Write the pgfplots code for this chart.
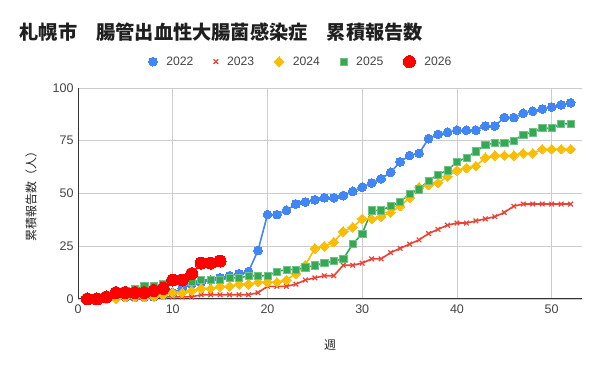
\documentclass[border=0pt]{standalone}
\usepackage{pgfplots}
\pgfplotsset{compat=1.18}
\usepackage{fontspec}
\setmainfont{Liberation Sans}
\newfontfamily\cjk{Noto Sans CJK JP}
\definecolor{c22}{HTML}{4285F4}
\definecolor{c23}{HTML}{EA4335}
\definecolor{c24}{HTML}{FBBC04}
\definecolor{c25}{HTML}{34A853}
\definecolor{c26}{HTML}{FF0000}
\definecolor{gridc}{HTML}{CCCCCC}
\definecolor{axc}{HTML}{333333}
\definecolor{txt}{HTML}{444444}
\begin{document}
\begin{tikzpicture}[x=1pt,y=1pt]
\path[use as bounding box] (0,0) rectangle (600,371);
\node[anchor=west, inner sep=0pt, text=black!88] at (19.5,339.3) {\cjk\bfseries\fontsize{19.2}{22}\selectfont 札幌市　腸管出血性大腸菌感染症　累積報告数};
\begin{axis}[
  at={(78pt,72pt)}, anchor=south west,
  scale only axis, width=504pt, height=211pt,
  xmin=0, xmax=53.2, ymin=0, ymax=100,
  xtick={0,10,20,30,40,50}, ytick={0,25,50,75,100},
  major tick length=0pt,
  axis x line*=bottom, axis y line*=left,
  axis line style={axc, line width=1pt, -},
  grid=major, major grid style={gridc, line width=0.8pt},
  ticklabel style={font=\fontsize{12.5}{14}\selectfont, text=txt},
  /pgf/number format/assume math mode=true,
  xticklabel style={yshift=-2pt},
  yticklabel style={xshift=-1pt},
  xlabel={\cjk 週}, ylabel={\cjk 累積報告数（人）},
  label style={font=\fontsize{12}{14}\selectfont, text=black!85},
  xlabel style={at={(axis description cs:0.5,-0.218)}, anchor=center},
  ylabel style={at={(axis description cs:-0.0933,0.5)}, anchor=center, rotate=0},
  legend columns=5,
  legend style={at={(axis description cs:0.4425,1.125)}, anchor=center, draw=none, fill=none,
    font=\fontsize{12.2}{14}\selectfont, text=txt,
    /tikz/every odd column/.append style={column sep=7pt},
    /tikz/every even column/.append style={column sep=18pt}},
  legend image code/.code={\draw[#1,/tikz/only marks] plot coordinates {(5pt,0pt)};},
  every axis plot/.append style={line width=1.6pt},
  clip=false,
]
\addplot[c22, mark=*, mark size=4.4pt, mark options={solid, fill=c22, draw=c22, line width=0pt}] coordinates {
(1,0)(2,0)(3,0)(4,1)(5,1)(6,1)(7,1)(8,1)(9,2)(10,3)(11,5)(12,7)(13,8)(14,9)(15,10)(16,11)(17,12)(18,13)
(19,23)(20,40)(21,40)(22,42)(23,45)(24,46)(25,47)(26,48)(27,48)(28,49)(29,51)(30,53)(31,55)(32,57)(33,60)(34,65)
(35,68)(36,69)(37,76)(38,78)(39,79)(40,80)(41,80)(42,80)(43,82)(44,82)(45,86)(46,86)(47,88)(48,89)(49,90)(50,91)(51,92)(52,93)};
\addlegendentry{2022}
\addplot[c23, mark=x, mark size=3.3pt, mark options={solid, line width=1.2pt}] coordinates {
(1,0)(2,0)(3,0)(4,0)(5,0)(6,0)(7,0)(8,1)(9,1)(10,1)(11,1)(12,1)(13,2)(14,2)(15,2)(16,2)(17,2)(18,2)
(19,3)(20,6)(21,6)(22,6)(23,7)(24,9)(25,10)(26,11)(27,11)(28,16)(29,16)(30,17)(31,19)(32,19)(33,22)(34,24)
(35,26)(36,28)(37,31)(38,33)(39,35)(40,36)(41,36)(42,37)(43,38)(44,39)(45,41)(46,44)(47,45)(48,45)(49,45)(50,45)(51,45)(52,45)};
\addlegendentry{2023}
\addplot[c24, mark=square*, mark size=3.4pt, mark options={solid, rotate=45, fill=c24, draw=c24, line width=0pt}] coordinates {
(1,0)(2,0)(3,0)(4,0)(5,1)(6,1)(7,1)(8,1)(9,2)(10,3)(11,3)(12,4)(13,5)(14,5)(15,6)(16,6)(17,7)(18,7)
(19,8)(20,8)(21,8)(22,9)(23,12)(24,16)(25,24)(26,25)(27,27)(28,32)(29,34)(30,38)(31,38)(32,39)(33,41)(34,44)
(35,48)(36,53)(37,54)(38,55)(39,58)(40,61)(41,62)(42,63)(43,67)(44,68)(45,68)(46,68)(47,69)(48,69)(49,71)(50,71)(51,71)(52,71)};
\addlegendentry{2024}
\addplot[c25, mark=square*, mark size=3.6pt, mark options={solid, fill=c25, draw=c25!70!white, line width=0.6pt}] coordinates {
(1,0)(2,0)(3,1)(4,3)(5,4)(6,5)(7,6)(8,6)(9,7)(10,8)(11,8)(12,8)(13,9)(14,9)(15,9)(16,10)(17,10)(18,11)
(19,11)(20,11)(21,13)(22,14)(23,14)(24,15)(25,16)(26,17)(27,18)(28,19)(29,26)(30,31)(31,42)(32,42)(33,44)(34,46)
(35,50)(36,52)(37,56)(38,59)(39,61)(40,65)(41,67)(42,70)(43,73)(44,74)(45,74)(46,75)(47,78)(48,79)(49,81)(50,81)(51,83)(52,83)};
\addlegendentry{2025}
\addplot[c26, mark=*, mark size=6pt, mark options={solid, fill=c26, draw=c26, line width=0pt}] coordinates {
(1,0)(2,0)(3,1)(4,3)(5,3)(6,3)(7,3)(8,4)(9,5)(10,9)(11,9)(12,12)(13,17)(14,17)(15,18)};
\addlegendentry{2026}
\end{axis}
\end{tikzpicture}
\end{document}
